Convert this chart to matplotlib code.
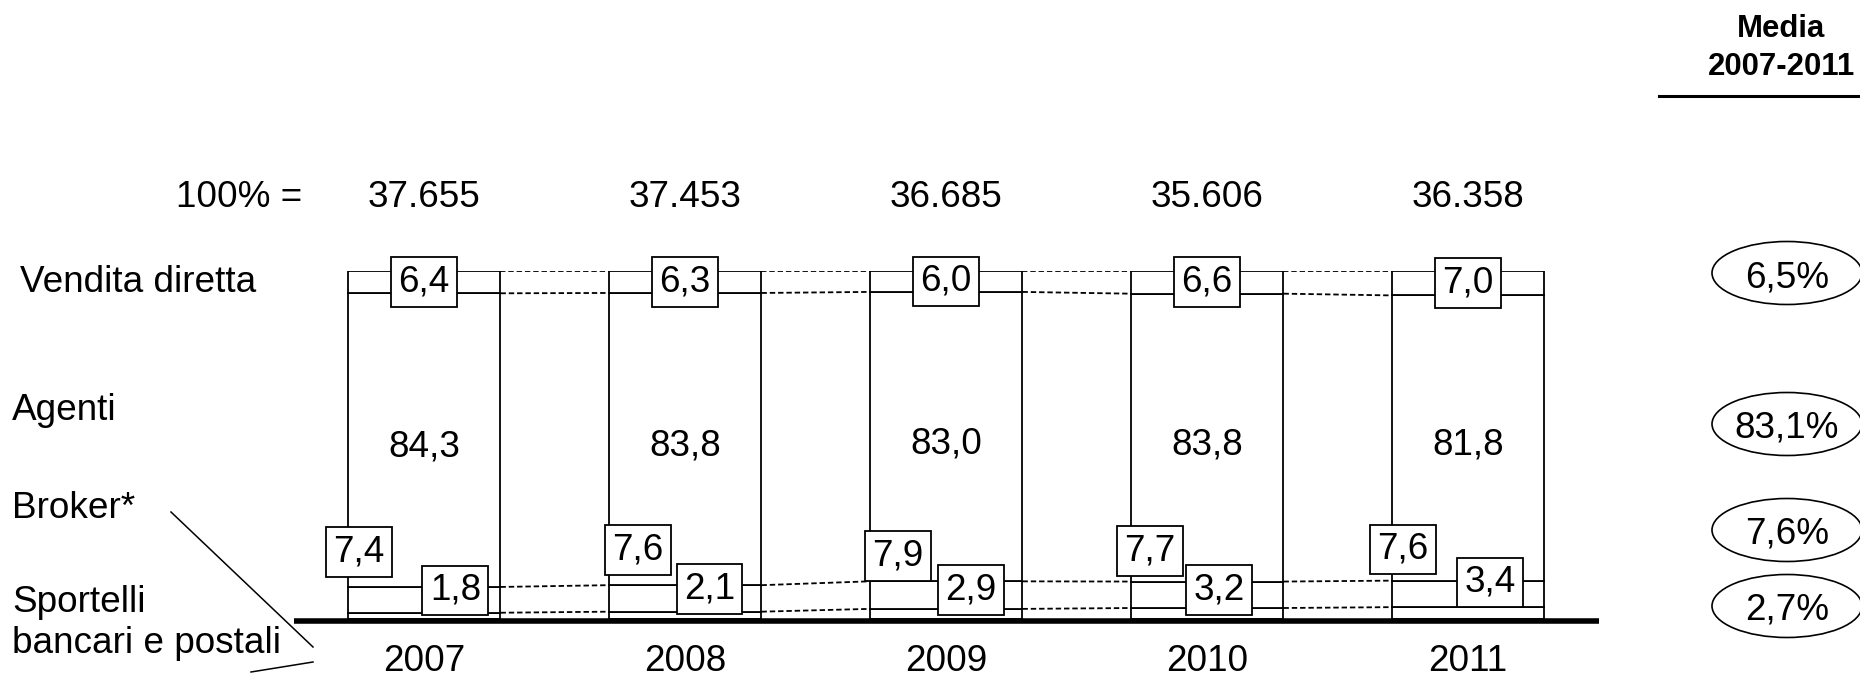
import matplotlib
matplotlib.use('Agg')
import matplotlib.pyplot as plt
import numpy as np
from matplotlib.lines import Line2D
from matplotlib.patches import Ellipse
from matplotlib.transforms import blended_transform_factory

plt.rcParams['font.family'] = ['Liberation Sans', 'DejaVu Sans']

# dati
years = ['2007', '2008', '2009', '2010', '2011']
totali = [37655, 37453, 36685, 35606, 36358]
sportelli = [1.8, 2.1, 2.9, 3.2, 3.4]
broker = [7.4, 7.6, 7.9, 7.7, 7.6]
agenti = [84.3, 83.8, 83.0, 83.8, 81.8]
vendita = [6.4, 6.3, 6.0, 6.6, 7.0]
medie = [6.5, 83.1, 7.6, 2.7]   # vendita, agenti, broker, sportelli

# posizione delle etichette (layout)
broker_dx = [-0.25, -0.18, -0.185, -0.22, -0.25]
broker_y = [19.3, 19.8, 18.0, 19.5, 20.0]
sport_dx = [0.12, 0.094, 0.094, 0.046, 0.085]
sport_y = [8.2, 8.6, 8.3, 8.3, 10.5]

W, H = 1860, 680
FS = 26.6

def fx(x):
    return x / W

def fy(y):
    return 1 - y / H

def fmt(v):
    return f"{v:.1f}".replace('.', ',')

fig = plt.figure(figsize=(W / 100, H / 100), dpi=100)
ax = fig.add_axes([fx(293.5), fy(619), 1305 / W, (619 - 271) / H])
ax.set_xlim(-0.5, 4.5)
ax.set_ylim(0, 100)
ax.axis('off')

x = np.arange(len(years))
vals = np.array([sportelli, broker, agenti, vendita])
norm = vals / vals.sum(axis=0) * 100
cum = np.cumsum(norm, axis=0)
bottoms = cum - norm
w = 0.586

for k in range(4):
    ax.bar(x, norm[k], bottom=bottoms[k], width=w, color='white',
           edgecolor='black', linewidth=1.3)

# linee tratteggiate tra le barre
for i in range(len(years) - 1):
    for k in range(4):
        ax.plot([i + w / 2, i + 1 - w / 2], [cum[k][i], cum[k][i + 1]],
                color='black', lw=1.3, ls=(0, (3, 1.6)))

# linea di base
ax.plot([-0.5, 4.5], [-0.5, -0.5], color='black', lw=4,
        solid_capstyle='butt', clip_on=False)

box = dict(boxstyle='square,pad=0.2', fc='white', ec='black', lw=1.3)
for i in x:
    ax.text(i, 100 - norm[3][i] / 2, fmt(vendita[i]), ha='center', va='center',
            fontsize=FS, bbox=box)
    ax.text(i, cum[1][i] + norm[2][i] / 2 - 2, fmt(agenti[i]), ha='center',
            va='center', fontsize=FS)
    ax.text(i + broker_dx[i], broker_y[i], fmt(broker[i]), ha='center',
            va='center', fontsize=FS, bbox=box)
    ax.text(i + sport_dx[i], sport_y[i], fmt(sportelli[i]), ha='center',
            va='center', fontsize=FS, bbox=box)

tr = blended_transform_factory(ax.transData, fig.transFigure)
for i in x:
    ax.text(i, fy(207), f"{totali[i]:,}".replace(',', '.'), transform=tr,
            ha='center', va='baseline', fontsize=FS)
    ax.text(i, fy(671), years[i], transform=tr, ha='center', va='baseline',
            fontsize=FS)

fig.text(fx(302), fy(207), '100% =', ha='right', va='baseline', fontsize=FS)

# etichette a sinistra
fig.text(fx(20), fy(292), 'Vendita diretta', va='baseline', fontsize=FS)
fig.text(fx(12), fy(420), 'Agenti', va='baseline', fontsize=FS)
fig.text(fx(12), fy(518), 'Broker*', va='baseline', fontsize=FS)
fig.text(fx(12), fy(612), 'Sportelli', va='baseline', fontsize=FS)
fig.text(fx(12), fy(653), 'bancari e postali', va='baseline', fontsize=FS)

fig.add_artist(Line2D([fx(171), fx(313)], [fy(512), fy(647)],
                      transform=fig.transFigure, color='black', lw=1.1))
fig.add_artist(Line2D([fx(251), fx(313)], [fy(672), fy(662)],
                      transform=fig.transFigure, color='black', lw=1.1))

# media a destra
fig.text(fx(1781), fy(37), 'Media', ha='center', va='baseline',
         fontsize=22.4, fontweight='bold')
fig.text(fx(1781), fy(75), '2007-2011', ha='center', va='baseline',
         fontsize=22.4, fontweight='bold')
fig.add_artist(Line2D([fx(1659), 1], [fy(96), fy(96)],
                      transform=fig.transFigure, color='black', lw=2.2))

ell_y = [273, 424, 530, 606]
for v, cy in zip(medie, ell_y):
    fig.add_artist(Ellipse((fx(1787), fy(cy)), 150 / W, 63 / H,
                           transform=fig.transFigure, fc='white',
                           ec='black', lw=1.2))
    fig.text(fx(1787), fy(cy + 14), fmt(v) + '%', ha='center',
             va='baseline', fontsize=FS)

fig.savefig('out.png', dpi=100)
